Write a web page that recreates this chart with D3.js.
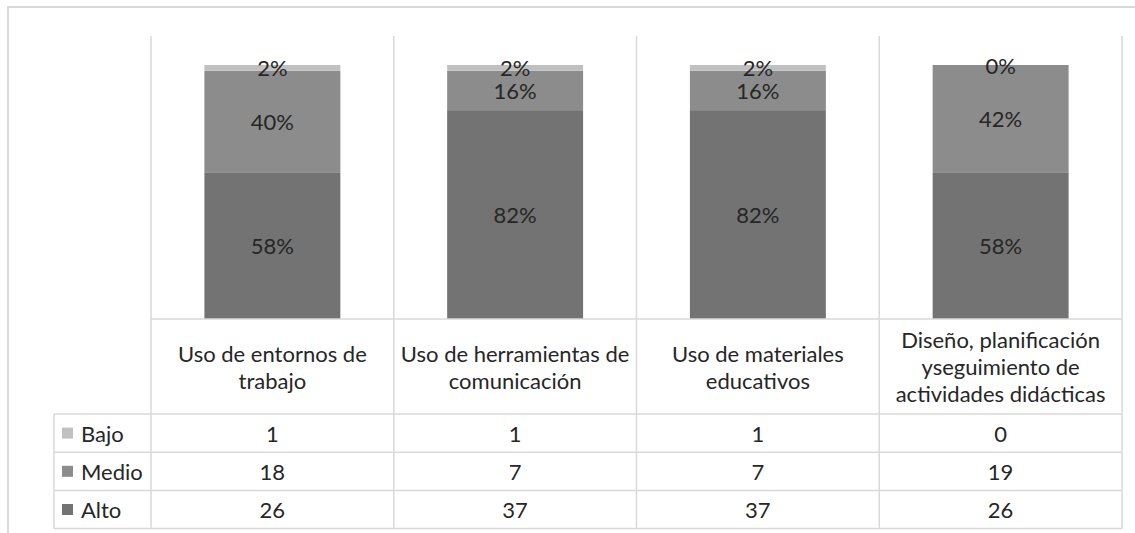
<!DOCTYPE html>
<html>
<head>
<meta charset="utf-8">
<script src="https://cdn.jsdelivr.net/npm/d3@7/dist/d3.min.js"></script>
<style>
  html, body { margin: 0; padding: 0; background: #fff; }
  svg { display: block; }
  text { font-family: Lato, "Open Sans", sans-serif; fill: #262626; }
</style>
</head>
<body>
<svg id="chart" width="1135" height="533"></svg>
<script>
const categories = [
  ["Uso de entornos de", "trabajo"],
  ["Uso de herramientas de", "comunicación"],
  ["Uso de materiales", "educativos"],
  ["Diseño, planificación", "yseguimiento de", "actividades didácticas"]
];
const seriesNames = ["Bajo", "Medio", "Alto"];
const bajo  = [1, 1, 1, 0];
const medio = [18, 7, 7, 19];
const alto  = [26, 37, 37, 26];
const colors = ["#c0c0c0", "#8c8c8c", "#737373"];

const svg = d3.select("#chart");
const gridColor = "#d9d9d9";

// outer chart border
svg.append("rect").attr("x", 8).attr("y", 7).attr("width", 1140).attr("height", 540)
  .attr("fill", "none").attr("stroke", gridColor).attr("stroke-width", 2);

const plotLeft = 151, plotRight = 1122, plotTop = 36, barBase = 319;
const rowH = 38.2;
const headerBottom = 414;
const tableBottom = headerBottom + rowH * 3;
const legendLeft = 54;

const idx = d3.range(categories.length);
const x = d3.scaleBand().domain(idx).range([plotLeft, plotRight]).padding(0);
const y = d3.scaleLinear().domain([0, 1]).range([barBase, 65]);
const barW = x.bandwidth() * 0.56;

const seriesArrays = [bajo, medio, alto];
const rows = idx.map(i => {
  const total = bajo[i] + medio[i] + alto[i];
  return { i, Alto: alto[i] / total, Medio: medio[i] / total, Bajo: bajo[i] / total };
});
const stack = d3.stack().keys(["Alto", "Medio", "Bajo"]);
const stacked = stack(rows);
const colorOf = { Bajo: colors[0], Medio: colors[1], Alto: colors[2] };

// vertical grid lines
const gl = svg.append("g");
idx.concat([categories.length]).forEach(k => {
  const xx = k < categories.length ? x(k) : plotRight;
  gl.append("line").attr("x1", xx).attr("x2", xx).attr("y1", plotTop).attr("y2", tableBottom)
    .attr("stroke", gridColor).attr("stroke-width", 1.5);
});

// bars
stacked.forEach(layer => {
  const g = svg.append("g");
  g.selectAll("rect").data(layer).join("rect")
    .attr("x", d => x(d.data.i) + (x.bandwidth() - barW) / 2)
    .attr("width", barW)
    .attr("y", d => y(d[1]))
    .attr("height", d => y(d[0]) - y(d[1]))
    .attr("fill", colorOf[layer.key]);
  g.selectAll("text").data(layer).join("text")
    .attr("x", d => x(d.data.i) + x.bandwidth() / 2)
    .attr("y", d => (y(d[0]) + y(d[1])) / 2)
    .attr("text-anchor", "middle").attr("dominant-baseline", "central")
    .attr("font-size", 22)
    .text(d => Math.round((d[1] - d[0]) * 100) + "%");
});

// table lines
const tl = svg.append("g").attr("stroke", gridColor).attr("stroke-width", 1.5);
tl.append("line").attr("x1", plotLeft).attr("x2", plotRight).attr("y1", barBase).attr("y2", barBase);
[0, 1, 2, 3].forEach(r => {
  const yy = headerBottom + r * rowH;
  tl.append("line").attr("x1", legendLeft).attr("x2", plotRight).attr("y1", yy).attr("y2", yy);
});
tl.append("line").attr("x1", legendLeft).attr("x2", legendLeft).attr("y1", headerBottom).attr("y2", tableBottom);

// header category labels
const headerMid = (barBase + headerBottom) / 2;
const lh = 27;
categories.forEach((lines, i) => {
  const t = svg.append("text").attr("text-anchor", "middle").attr("font-size", 22);
  lines.forEach((ln, j) => {
    t.append("tspan").attr("x", x(i) + x.bandwidth() / 2)
      .attr("y", headerMid + (j - (lines.length - 1) / 2) * lh)
      .attr("dominant-baseline", "central").text(ln);
  });
});

// table rows
seriesNames.forEach((name, r) => {
  const cy = headerBottom + r * rowH + rowH / 2;
  svg.append("rect").attr("x", 62).attr("y", cy - 5.5).attr("width", 11).attr("height", 11).attr("fill", colors[r]);
  svg.append("text").attr("x", 81).attr("y", cy).attr("dominant-baseline", "central")
    .attr("font-size", 22).text(name);
  seriesArrays[r].forEach((v, i) => {
    svg.append("text").attr("x", x(i) + x.bandwidth() / 2).attr("y", cy)
      .attr("text-anchor", "middle").attr("dominant-baseline", "central")
      .attr("font-size", 22).text(v);
  });
});
</script>
</body>
</html>
